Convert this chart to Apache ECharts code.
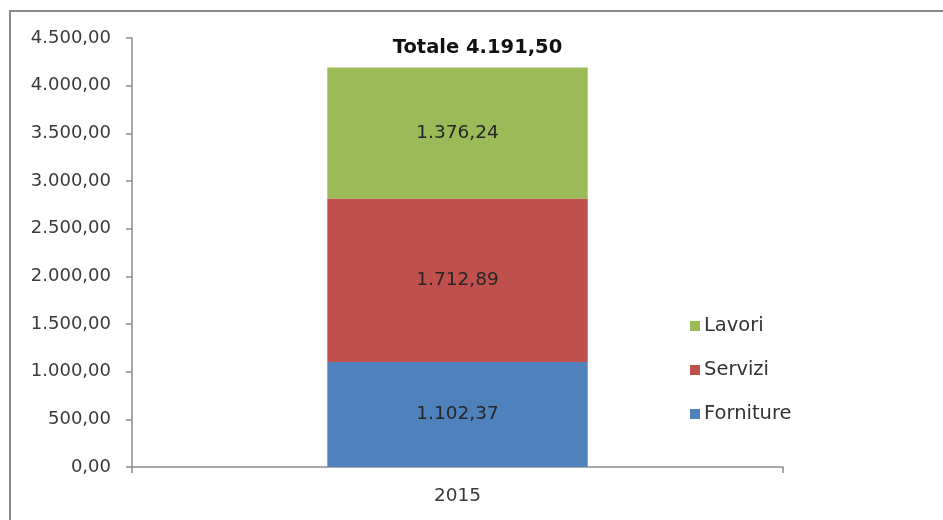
<!DOCTYPE html>
<html><head><meta charset="utf-8">
<script src="https://cdn.jsdelivr.net/npm/echarts@6/dist/echarts.min.js"></script>
<style>
html,body{margin:0;padding:0;background:#fff;overflow:hidden;width:943px;height:520px;}
#frame{position:absolute;left:9px;top:10px;width:934px;height:510px;border-top:2px solid #8a8a8a;border-left:2px solid #8a8a8a;box-sizing:border-box;}
#chart{position:absolute;left:0;top:0;width:943px;height:520px;}
</style></head>
<body>
<div id="frame"></div>
<div id="chart"></div>
<script>
const categories = ['2015'];
const forniture = [1102.37];
const servizi = [1712.89];
const lavori = [1376.24];
const yMin = 0, yMax = 4500, yInterval = 500;

function fmt(v){
  const neg = v < 0; v = Math.abs(v);
  let [i, d] = v.toFixed(2).split('.');
  i = i.replace(/\B(?=(\d{3})+(?!\d))/g, '.');
  return (neg ? '-' : '') + i + ',' + d;
}
const totals = categories.map((_, k) => forniture[k] + servizi[k] + lavori[k]);
const FONT = '"DejaVu Sans", sans-serif';
const lbl = {show:true, position:'inside', color:'#262626', fontSize:18.5, fontFamily:FONT, formatter:p=>fmt(p.value)};

const chart = echarts.init(document.getElementById('chart'));
chart.setOption({
  animation:false,
  grid:{left:132, right:160, top:38, bottom:53, containLabel:false},
  legend:{
    orient:'vertical', left:685, top:310, itemGap:22, itemWidth:10, itemHeight:10,
    icon:'rect', data:['Lavori','Servizi','Forniture'],
    textStyle:{fontSize:19.5, lineHeight:22, color:'#333', fontFamily:FONT, padding:[0,0,0,-1]}
  },
  xAxis:{
    type:'category', data:categories,
    axisLine:{lineStyle:{color:'#8c8c8c', width:1.5}},
    axisTick:{show:true, length:6, alignWithLabel:false, lineStyle:{color:'#8c8c8c', width:1.5}},
    axisLabel:{fontSize:18.5, color:'#3a3a3a', fontFamily:FONT, margin:20}
  },
  yAxis:{
    type:'value', min:yMin, max:yMax, interval:yInterval,
    splitLine:{show:false},
    axisLine:{show:true, lineStyle:{color:'#8c8c8c', width:1.5}},
    axisTick:{show:true, length:6, lineStyle:{color:'#8c8c8c', width:1.5}},
    axisLabel:{fontSize:18, color:'#3a3a3a', fontFamily:FONT, margin:21, formatter:v=>fmt(v)}
  },
  series:[
    {name:'Forniture', type:'bar', stack:'s', data:forniture, barWidth:'40%', itemStyle:{color:'#4F81BD'}, label:lbl},
    {name:'Servizi', type:'bar', stack:'s', data:servizi, itemStyle:{color:'#C0504D'}, label:lbl},
    {name:'Lavori', type:'bar', stack:'s', data:lavori, itemStyle:{color:'#9BBB59'}, label:lbl},
    {name:'Totale', type:'bar', stack:'s', data:categories.map(()=>0), itemStyle:{color:'transparent'},
     label:{show:true, position:'top', distance:9, offset:[20,0], color:'#111', fontWeight:'bold', fontSize:19.5, fontFamily:FONT,
       formatter:p=>'Totale ' + fmt(totals[p.dataIndex])}}
  ]
});
</script>
</body></html>
